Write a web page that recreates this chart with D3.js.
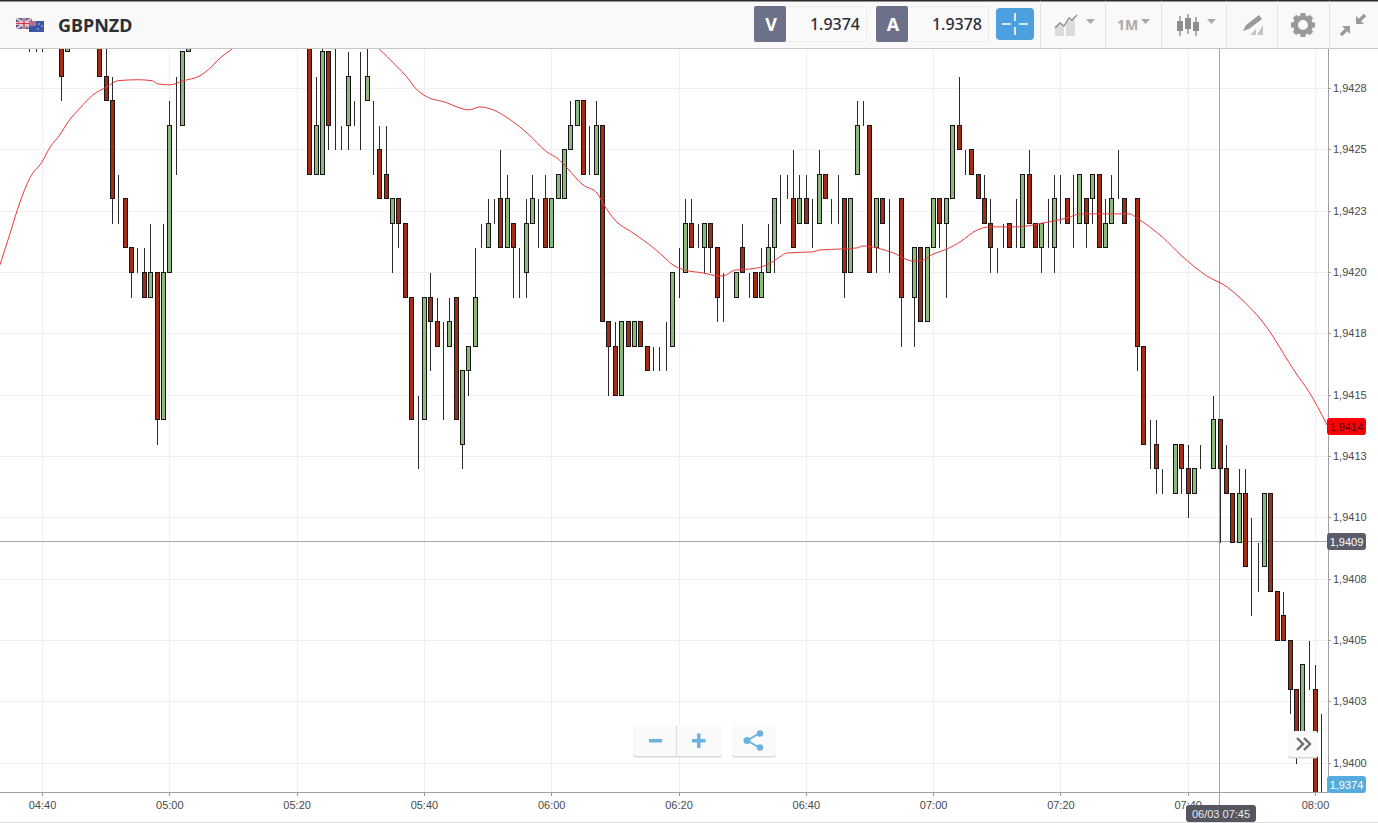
<!DOCTYPE html>
<html lang="en">
  <head>
    <meta charset="UTF-8" />
    <title>GBPNZD</title>
    <script src="https://d3js.org/d3.v7.min.js"></script>
    <style>
      html, body { margin: 0; padding: 0; background: #fff; overflow: hidden; }
      svg { display: block; }
      text { font-family: "Liberation Sans", Arial, sans-serif; }
      .toolbar text { font-family: "Noto Sans", "Open Sans", sans-serif; }
    </style>
  </head>
  <body>
    <svg id="chart" width="1378" height="823"></svg>
    <script>
      // minutes after 04:40, candles that sit fully above the visible range are left out
      var minutes = [-2,-1,0,3,4,9,10,11,12,13,14,15,16,17,18,19,20,21,22,23].concat(d3.range(42, 202));

      // prices in pips from 1.9420
      var opens = [
        10,10,10,10,9,10,8,7,3,3,1,0,0,-1,0,-6,0,6,6,9,
        11,4,4,9,6,6,6,7,7,7,6,5,4,2,3,2,-1,-6,-6,-1,
        -2,-3,-3,-1,-7,-4,-3,1,1,2,3,1,2,1,0,2,3,3,1,3,
        3,5,6,7,4,4,6,-2,-3,-5,-2,-3,-2,-3,-4,-4,-3,-3,0,0,
        2,1,1,2,1,-1,-1,-1,1,0,0,-1,0,1,3,3,3,2,3,2,
        2,4,3,3,3,0,4,6,6,1,3,2,2,3,-1,-1,1,-2,1,3,
        2,3,6,5,5,4,3,2,1,2,2,1,1,4,2,1,1,1,3,3,
        2,2,3,3,4,1,2,3,3,2,3,-3,-7,-7,-9,-9,-9,-7,-8,-9,
        -8,-8,-8,-6,-8,-9,-11,-9,-12,-12,-12,-9,-13,-14,-15,-17,-19,-16,-17,-22
      ];
      var highs = [
        10,10,10,10,10,10,10,8,4,3,1,1,1,2,0,2,7,8,9,10,
        11,8,10,9,10,6,9,7,9,10,7,6,6,3,3,2,-1,-5,-1,0,
        -1,-2,-1,-1,-4,-3,1,2,3,3,5,4,2,1,3,4,3,4,3,4,
        5,7,7,7,6,7,6,-2,-2,-2,-2,-2,-2,-3,-3,-3,-2,0,1,3,
        3,2,2,2,1,0,-1,0,2,0,0,1,2,3,4,4,5,4,4,3,
        5,4,3,4,3,3,7,7,6,3,3,3,2,3,-1,1,1,1,3,3,
        3,6,8,5,5,4,4,3,1,2,2,3,4,5,2,2,3,4,4,3,
        4,4,3,4,4,3,4,5,3,2,3,-3,-6,-6,-8,-9,-7,-7,-7,-8,
        -7,-8,-5,-6,-7,-9,-8,-8,-10,-11,-9,-9,-13,-13,-15,-17,-16,-15,-16,-18
      ];
      var lows = [
        9,9,9,7,9,8,7,2,2,1,-1,0,-1,-1,-7,-6,0,4,6,9,
        4,4,4,5,5,5,5,6,5,7,4,3,3,0,1,-1,-6,-8,-6,-4,
        -3,-6,-3,-6,-8,-5,-3,1,1,2,1,1,-1,-1,-1,2,1,1,1,3,
        3,5,6,4,4,4,-2,-5,-5,-5,-3,-3,-3,-4,-4,-4,-4,-3,-1,0,
        1,1,0,0,-2,-2,-1,-1,0,-1,-1,-1,0,0,2,3,1,2,2,1,
        2,3,2,2,-1,0,4,6,0,0,2,0,2,-3,-1,-3,-2,-2,1,1,
        -1,3,5,4,4,3,2,0,0,1,1,1,1,2,1,0,1,0,2,2,
        1,2,1,2,1,1,2,3,2,2,-4,-7,-8,-9,-9,-9,-9,-9,-10,-9,
        -8,-8,-8,-11,-9,-11,-11,-12,-14,-13,-12,-13,-15,-15,-18,-20,-19,-17,-22,-23
      ];
      var closes = [
        10,10,10,8,10,8,7,3,3,1,0,0,-1,0,-6,0,6,6,9,10,
        4,6,9,6,6,6,8,7,7,8,6,3,3,3,2,-1,-6,-6,-1,-2,
        -3,-3,-2,-6,-4,-3,-1,1,2,2,1,3,1,1,2,3,3,1,3,4,
        5,6,7,4,4,6,-2,-3,-5,-2,-3,-2,-3,-4,-4,-4,-3,0,0,2,
        1,1,2,1,-1,-1,-1,0,0,0,-1,0,1,3,3,3,1,3,2,2,
        4,3,3,3,0,3,6,6,0,3,2,2,2,-1,-1,1,-2,1,3,2,
        3,6,5,5,4,3,2,1,1,2,1,1,4,2,1,2,1,3,3,2,
        2,4,2,4,1,2,3,3,2,2,-3,-7,-7,-8,-9,-9,-7,-8,-9,-8,
        -8,-8,-6,-8,-9,-11,-9,-12,-12,-12,-9,-13,-15,-15,-17,-19,-16,-16,-22,-22
      ];

      // moving average, minutes after 04:40 and pips from 1.9420
      var maMinutes = [
        -6.6,-5,-3.5,-1.9,0,1.3,2.8,4.1,6,8,10.2,11.9,15.1,17.3,18.2,20.1,22.2,24.8,26.1,28,29.9,
        41.3,52.8,55.8,57.3,58.9,60.2,63.6,65.2,67.1,68.8,70.9,73.1,76.2,79.3,81.1,82.5,85,87.2,88.1,
        90.3,92.4,95.1,97.9,98.7,101,103.9,106.2,107,108.9,111.2,113.9,115.2,117.2,121.1,122.2,125.8,
        128,129,131.2,133.7,136.8,137.9,140,142.2,144.2,146.9,148.9,153.2,157.3,161,163.1,165.1,170.9,
        172,176,179.1,183,186.2,187.9,191.8,197.2,198.9,201.9
      ];
      var maPips = [
        0.29,1.59,2.82,3.84,4.49,5.1,5.59,6.12,6.69,7.22,7.55,7.8,7.84,7.8,7.67,7.63,7.8,8,8.24,8.73,9.1,
        11.5,9.14,8.37,7.96,7.43,7.18,6.9,6.73,6.61,6.73,6.61,6.29,5.67,4.9,4.61,4.24,3.55,3.22,2.82,
        2.04,1.67,1.18,0.57,0.37,0.08,-0.04,-0.16,-0.16,0.08,0.12,0.29,0.49,0.78,0.82,0.9,0.94,
        0.98,1.06,0.98,0.78,0.45,0.45,0.73,0.94,1.22,1.71,1.84,1.84,2,2.2,2.37,2.37,2.37,
        2.2,1.43,0.65,-0.16,-0.61,-0.98,-2.04,-4.2,-4.82,-6.24
      ];

      var yTicks = [7.5,5,2.5,0,-2.5,-5,-7.5,-10,-12.5,-15,-17.5,-20];
      var yTickLabels = ["1,9428","1,9425","1,9423","1,9420","1,9418","1,9415","1,9413","1,9410","1,9408","1,9405","1,9403","1,9400"];
      var xTickMinutes = d3.range(0, 201, 20);

      var symbol = "GBPNZD", bid = "1.9374", ask = "1.9378";
      var redLabel = "1,9414", crossLabel = "1,9409", bidLabel = "1,9374", crossTime = "06/03 07:45";

      var svg = d3.select("#chart");
      var plotRight = 1328, plotTop = 48, plotBottom = 792;

      var start = new Date(2020, 2, 6, 4, 40);
      var toDate = function (m) { return new Date(start.getTime() + m * 60000); };
      var x = d3.scaleTime().domain([toDate(0), toDate(200)]).range([42, 1315]);
      var price = function (p) { return 1.942 + p * 0.0001; };
      var y = d3.scaleLinear().domain([price(0), price(-20)]).range([272, 762.5]);

      svg.append("clipPath").attr("id", "plot").append("rect")
        .attr("x", 0).attr("y", plotTop).attr("width", plotRight).attr("height", plotBottom - plotTop);

      // grid
      var grid = svg.append("g").attr("stroke", "#f0f0f2").attr("shape-rendering", "crispEdges");
      grid.selectAll(".h").data(yTicks).enter().append("line")
        .attr("x1", 0).attr("x2", plotRight)
        .attr("y1", function (d) { return Math.round(y(price(d))) + 0.5; })
        .attr("y2", function (d) { return Math.round(y(price(d))) + 0.5; });
      grid.selectAll(".v").data(xTickMinutes).enter().append("line")
        .attr("y1", plotTop).attr("y2", plotBottom)
        .attr("x1", function (d) { return Math.round(x(toDate(d))) + 0.5; })
        .attr("x2", function (d) { return Math.round(x(toDate(d))) + 0.5; });

      // crosshair
      svg.append("line").attr("x1", 0).attr("x2", plotRight).attr("y1", 541.5).attr("y2", 541.5)
        .attr("stroke", "#a6a6a6").attr("shape-rendering", "crispEdges");
      svg.append("line").attr("x1", 1219.5).attr("x2", 1219.5).attr("y1", plotTop).attr("y2", 806)
        .attr("stroke", "#a6a6a6").attr("shape-rendering", "crispEdges");

      // axes
      var yAxis = d3.axisRight(y)
        .tickValues(yTicks.map(price))
        .tickFormat(function (d, i) { return yTickLabels[i]; })
        .tickSize(3).tickPadding(2);
      var gy = svg.append("g").attr("transform", "translate(" + plotRight + ",0)").call(yAxis);
      var xAxis = d3.axisBottom(x)
        .tickValues(xTickMinutes.map(toDate))
        .tickFormat(d3.timeFormat("%H:%M"))
        .tickSize(4).tickPadding(5);
      var gx = svg.append("g").attr("transform", "translate(0," + plotBottom + ")").call(xAxis);
      [gy, gx].forEach(function (g) {
        g.selectAll("text").attr("font-size", 11).attr("font-family", "Liberation Sans").attr("fill", "#4a4a4a");
        g.selectAll("line").attr("stroke", "#999").attr("shape-rendering", "crispEdges");
        g.select(".domain").remove();
      });
      svg.append("line").attr("x1", plotRight + 0.5).attr("x2", plotRight + 0.5).attr("y1", plotTop).attr("y2", plotBottom)
        .attr("stroke", "#a0a0a0").attr("shape-rendering", "crispEdges");
      svg.append("line").attr("x1", 0).attr("x2", plotRight).attr("y1", plotBottom + 0.5).attr("y2", plotBottom + 0.5)
        .attr("stroke", "#a0a0a0").attr("shape-rendering", "crispEdges");
      svg.append("line").attr("x1", 0).attr("x2", 1378).attr("y1", 822.5).attr("y2", 822.5)
        .attr("stroke", "#dcdcdc").attr("shape-rendering", "crispEdges");

      // candles
      var candles = svg.append("g").attr("clip-path", "url(#plot)");
      var cx = function (i) { return Math.round(x(toDate(minutes[i]))) + 0.5; };
      var py = function (p) { return Math.round(y(price(p))) + 0.5; };
      candles.selectAll(".wick").data(minutes).enter().append("line")
        .attr("x1", function (d, i) { return cx(i); })
        .attr("x2", function (d, i) { return cx(i); })
        .attr("y1", function (d, i) { return py(highs[i]); })
        .attr("y2", function (d, i) { return py(lows[i]); })
        .attr("stroke", "#2a2a2a").attr("shape-rendering", "crispEdges");
      candles.selectAll(".body").data(minutes).enter().append("rect")
        .attr("x", function (d, i) { return cx(i) - 2; })
        .attr("width", 4)
        .attr("y", function (d, i) { return py(Math.max(opens[i], closes[i])); })
        .attr("height", function (d, i) { return py(Math.min(opens[i], closes[i])) - py(Math.max(opens[i], closes[i])); })
        .attr("fill", function (d, i) { return closes[i] < opens[i] ? "#a52d16" : "#8fb87c"; })
        .attr("stroke", "#161616").attr("shape-rendering", "crispEdges");

      // moving average
      var maLine = d3.line()
        .x(function (d) { return x(toDate(d)); })
        .y(function (d, i) { return y(price(maPips[i])); })
        .curve(d3.curveMonotoneX);
      candles.append("path").datum(maMinutes).attr("d", maLine)
        .attr("fill", "none").attr("stroke", "#e8393a").attr("stroke-width", 1);

      // price and time tags
      function tag(tx, ty, w, h, fill, color, label) {
        svg.append("rect").attr("x", tx).attr("y", ty).attr("width", w).attr("height", h).attr("rx", 3).attr("fill", fill);
        svg.append("text").attr("x", tx + w / 2).attr("y", ty + h / 2 + 4).attr("text-anchor", "middle")
          .attr("font-size", 11).attr("fill", color).text(label);
      }
      tag(1327, 418, 39, 17, "#fb0006", "#4a0a0a", redLabel);
      tag(1327, 533, 39, 17, "#5c5d68", "#fff", crossLabel);
      tag(1327, 776, 39, 17, "#56acdc", "#fff", bidLabel);
      tag(1186, 805, 70, 17, "#55565f", "#e8e8e8", crossTime);

      // zoom and share buttons
      function button(bx, by, w, h) {
        svg.append("rect").attr("x", bx).attr("y", by + 1.5).attr("width", w).attr("height", h).attr("rx", 3).attr("fill", "#d8d8d8");
        svg.append("rect").attr("x", bx).attr("y", by).attr("width", w).attr("height", h).attr("rx", 3).attr("fill", "#fafafa");
      }
      button(633, 725, 89, 31);
      button(732, 725, 44, 31);
      button(1288, 731, 30, 26);
      svg.append("line").attr("x1", 676.5).attr("x2", 676.5).attr("y1", 725).attr("y2", 756).attr("stroke", "#dedede");
      var blue = "#6cb2de";
      svg.append("path").attr("d", "M649 739h13v3.4h-13z M692 739h5v-5.5h3.5v5.5h5v3.4h-5v5.5h-3.5v-5.5h-5z").attr("fill", blue);
      svg.append("path").attr("d", "M747 740.5L760 733M747 740.5L760 748").attr("stroke", blue).attr("stroke-width", 2).attr("fill", "none");
      [[747, 740.5, 3.6], [760, 733.5, 3.2], [760, 747.5, 3.2]].forEach(function (c) {
        svg.append("circle").attr("cx", c[0]).attr("cy", c[1]).attr("r", c[2]).attr("fill", blue);
      });
      svg.append("path").attr("d", "M1297 738l6 6l-6 6M1304 738l6 6l-6 6")
        .attr("stroke", "#6d6d6d").attr("stroke-width", 2.4).attr("fill", "none");

      // toolbar
      var bar = svg.append("g").attr("class", "toolbar");
      bar.append("rect").attr("width", 1378).attr("height", 48).attr("fill", "#f9f9f9");
      bar.append("rect").attr("width", 1378).attr("height", 1.5).attr("fill", "#2b2b2b");
      bar.append("rect").attr("y", 48).attr("width", 1378).attr("height", 1).attr("fill", "#c6c6c6");

      // flags
      bar.append("rect").attr("x", 16).attr("y", 18).attr("width", 16).attr("height", 11).attr("fill", "#5a5f95");
      bar.append("path").attr("d", "M16 18L32 29M32 18L16 29").attr("stroke", "#eacfd4").attr("stroke-width", 2);
      bar.append("path").attr("d", "M24 18V29M16 23.5H32").attr("stroke", "#eef0f4").attr("stroke-width", 3);
      bar.append("path").attr("d", "M24 18V29M16 23.5H32").attr("stroke", "#d4334a").attr("stroke-width", 1.4);
      bar.append("rect").attr("x", 29).attr("y", 21).attr("width", 15).attr("height", 11).attr("fill", "#3c55a5");
      bar.append("rect").attr("x", 29).attr("y", 21).attr("width", 7).attr("height", 5).attr("fill", "#b56f8c");
      bar.selectAll(".star").data([[39, 24], [42, 26], [38, 29]]).enter().append("circle")
        .attr("cx", function (d) { return d[0]; }).attr("cy", function (d) { return d[1]; })
        .attr("r", 0.8).attr("fill", "#f0c8d0");

      bar.append("text").attr("x", 58).attr("y", 32).attr("font-size", 18).attr("font-weight", 700)
        .attr("fill", "#2b3036").text(symbol);

      [1040, 1105, 1161, 1226, 1277, 1329].forEach(function (sx) {
        bar.append("line").attr("x1", sx + 0.5).attr("x2", sx + 0.5).attr("y1", 1).attr("y2", 48).attr("stroke", "#e3e3e3");
      });

      function quoteBox(bx, w, letter, value) {
        bar.append("rect").attr("x", bx + 0.5).attr("y", 6.5).attr("width", w).attr("height", 35).attr("rx", 2)
          .attr("fill", "#fafafa").attr("stroke", "#ececec");
        bar.append("rect").attr("x", bx).attr("y", 6).attr("width", 32).attr("height", 36).attr("rx", 2).attr("fill", "#6c7189");
        bar.append("text").attr("x", bx + 17).attr("y", 31).attr("text-anchor", "middle").attr("font-size", 18)
          .attr("font-weight", 700).attr("fill", "#fff").text(letter);
        bar.append("text").attr("x", bx + w - 6).attr("y", 30).attr("text-anchor", "end").attr("font-size", 16)
          .attr("font-weight", 500).attr("fill", "#2b2f36").text(value);
      }
      quoteBox(754, 112, "V", bid);
      quoteBox(876, 112, "A", ask);

      // crosshair toggle
      bar.append("rect").attr("x", 996).attr("y", 8).attr("width", 38).attr("height", 32).attr("rx", 4).attr("fill", "#4ba0dd");
      bar.append("path").attr("d", "M1015 13v8M1015 27v8M1002 24h9M1019 24h9").attr("stroke", "#fff").attr("stroke-width", 1.6);

      // tool icons
      var iconGrey = "#a9a9a9";
      bar.append("path").attr("d", "M1055 36v-10l5-3l4 3v10z M1066 36v-15l9-2v17z").attr("fill", "#dcdcdc");
      bar.append("path").attr("d", "M1055 28l5-5l4 3l5-8l3 2l5-5").attr("fill", "none").attr("stroke", "#8f8f8f").attr("stroke-width", 1.4);
      bar.append("text").attr("x", 1117).attr("y", 30).attr("font-size", 14).attr("font-weight", 700).attr("fill", iconGrey).text("1M");
      [[1086, 19], [1141, 19], [1207, 19]].forEach(function (t) {
        bar.append("path").attr("d", "M" + t[0] + " " + t[1] + "h9l-4.5 5z").attr("fill", iconGrey);
      });
      bar.append("path").attr("d", "M1180 16v20M1188 14v20M1196 17v19").attr("stroke", "#8f8f8f").attr("stroke-width", 1.4);
      bar.append("path").attr("d", "M1177 21h6v10h-6z M1185 18h6v11h-6z M1193 22h6v9h-6z").attr("fill", "#8f8f8f");
      bar.append("path").attr("d", "M1243 31l3-6l13-10l3 4l-13 10z").attr("fill", "#9a9a9a");
      bar.append("path").attr("d", "M1250 35l6-6v6z M1257 35l6-10v10z").attr("fill", "#c4c4c4");
      bar.append("circle").attr("cx", 1303).attr("cy", 25).attr("r", 7.5).attr("fill", "none").attr("stroke", "#999").attr("stroke-width", 5);
      d3.range(0, 360, 45).forEach(function (a) {
        bar.append("rect").attr("x", 1300.5).attr("y", 13).attr("width", 5).attr("height", 4).attr("fill", "#999")
          .attr("transform", "rotate(" + a + " 1303 25)");
      });
      bar.append("path").attr("d", "M1356 24h8l-2.8-2.8l5-5l-2.4-2.4l-5 5l-2.8-2.8z M1350 26h-8l2.8 2.8l-5 5l2.4 2.4l5-5l2.8 2.8z")
        .attr("fill", "#9a9a9a");
    </script>
  </body>
</html>
